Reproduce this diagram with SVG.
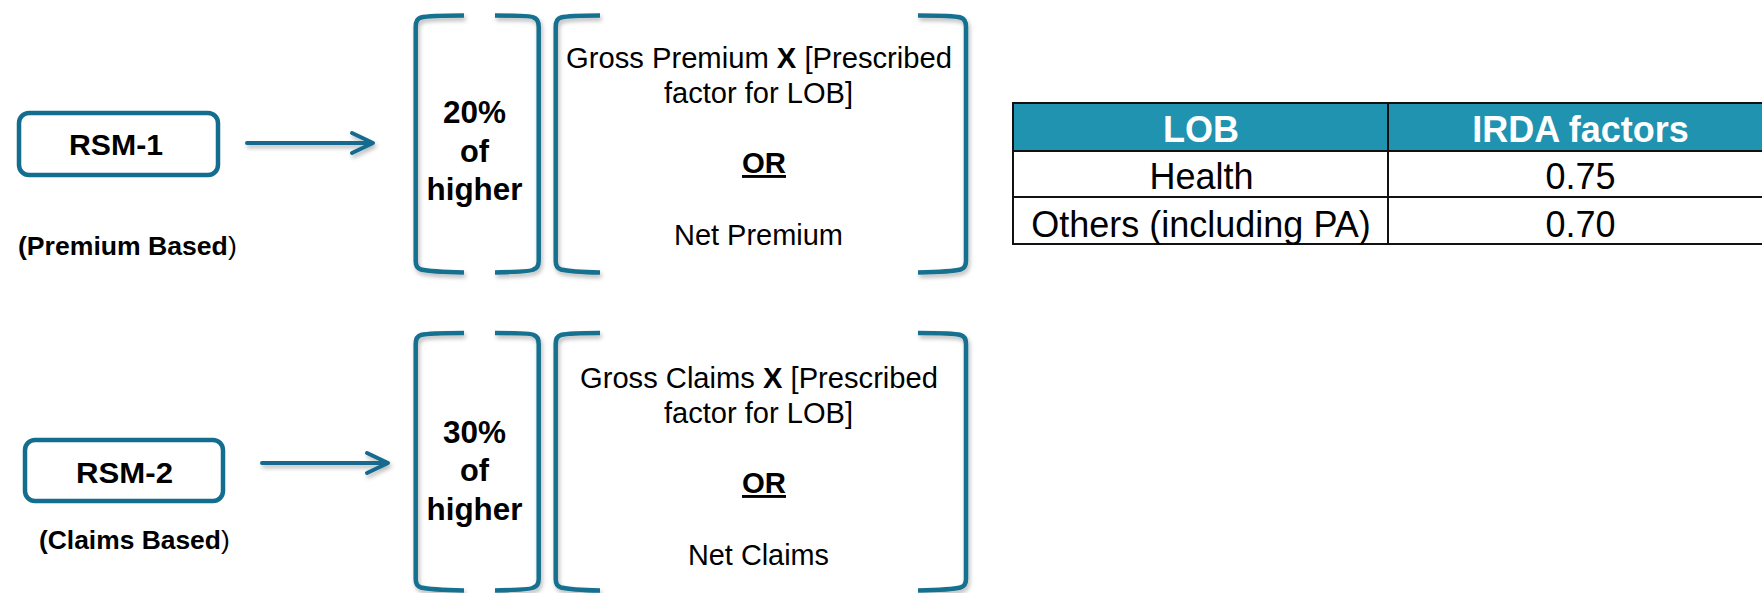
<svg xmlns="http://www.w3.org/2000/svg" width="1762" height="593" viewBox="0 0 1762 593">
<defs>
<style>
.t{font-family:"Liberation Sans",Arial,sans-serif;fill:#000;}
.b{font-weight:bold;}
.m{text-anchor:middle;}
.w{fill:#fff;}
.box{fill:#fff;stroke:#126d8e;stroke-width:4.5;}
.br{fill:none;stroke:#176f8f;stroke-width:4.5;stroke-linecap:butt;stroke-linejoin:round;}
.ar{fill:none;stroke:#126b8d;stroke-width:4;stroke-linecap:round;stroke-linejoin:round;}
.grid{stroke:#111;stroke-width:2;fill:none;}
</style>
<filter id="sh" x="-20%" y="-20%" width="140%" height="140%">
<feDropShadow dx="1.5" dy="3" stdDeviation="2" flood-color="#000" flood-opacity="0.28"/>
</filter>
</defs>
<rect width="1762" height="593" fill="#fff"/>

<g id="rsm1">
<rect class="box" x="19" y="113" width="199" height="62" rx="10"/>
<text class="t b m" x="116" y="155" font-size="30" textLength="94" lengthAdjust="spacingAndGlyphs">RSM-1</text>
<text class="t" x="18" y="255" font-size="26.6"><tspan class="b">(Premium Based</tspan>)</text>
</g>

<g id="rsm2">
<rect class="box" x="25" y="440" width="198" height="61" rx="10"/>
<text class="t b m" x="124.5" y="483" font-size="30" textLength="97" lengthAdjust="spacingAndGlyphs">RSM-2</text>
<text class="t" x="39" y="549" font-size="26.4"><tspan class="b">(Claims Based</tspan>)</text>
</g>

<g id="connectors" filter="url(#sh)">
<path class="ar" d="M247,143 L372,143 M352,133 L373,143 L352,153"/>
<path class="ar" d="M262,463 L387,463 M367,453 L388,463 L367,473"/>
</g>

<g id="pct1" filter="url(#sh)">
<path class="br" d="M464,15.5 C440,15.5 427,16 421,17.5 Q415.7,19 415.7,27 L415.7,261 Q415.7,268 421,269.5 C427,271 440,272 464,272.5"/>
<path class="br" d="M495,15.5 C519,15.5 532,16 533.5,17.5 Q538.7,19 538.7,27 L538.7,261 Q538.7,268 533.5,269.5 C532,271 519,272 495,272.5"/>
</g>
<g id="pct1text">
<text class="t b m" x="474.5" y="123" font-size="31.5" textLength="63" lengthAdjust="spacingAndGlyphs">20%</text>
<text class="t b m" x="474.5" y="162" font-size="31.5" textLength="29" lengthAdjust="spacingAndGlyphs">of</text>
<text class="t b m" x="474.5" y="200" font-size="31.5" textLength="96" lengthAdjust="spacingAndGlyphs">higher</text>
</g>

<g id="formula1" filter="url(#sh)">
<path class="br" d="M600,15.5 C576,15.5 567,16 561,17.5 Q555.7,19 555.7,27 L555.7,261 Q555.7,268 561,269.5 C567,271 576,272 600,272.5"/>
<path class="br" d="M918,15.5 C942,15.5 955,16 960.5,17.5 Q966,19 966,27 L966,261 Q966,268 960.5,269.5 C955,271 942,272 918,272.5"/>
</g>
<g id="formula1text">
<text class="t m" x="759" y="68" font-size="29" textLength="386" lengthAdjust="spacingAndGlyphs">Gross Premium <tspan class="b">X</tspan> [Prescribed</text>
<text class="t m" x="758.5" y="103" font-size="29" textLength="189" lengthAdjust="spacingAndGlyphs">factor for LOB]</text>
<text class="t b m" x="764" y="173" font-size="29" text-decoration="underline" textLength="44" lengthAdjust="spacingAndGlyphs">OR</text>
<text class="t m" x="758.5" y="245" font-size="29" textLength="169" lengthAdjust="spacingAndGlyphs">Net Premium</text>
</g>

<g id="pct2" filter="url(#sh)">
<path class="br" d="M464,333 C440,333 427,333.5 421,335 Q415.7,336.5 415.7,344 L415.7,579 Q415.7,586 421,587.5 C427,589 440,590 464,590.5"/>
<path class="br" d="M495,333 C519,333 532,333.5 533.5,335 Q538.7,336.5 538.7,344 L538.7,579 Q538.7,586 533.5,587.5 C532,589 519,590 495,590.5"/>
</g>
<g id="pct2text">
<text class="t b m" x="474.5" y="443" font-size="31.5" textLength="63" lengthAdjust="spacingAndGlyphs">30%</text>
<text class="t b m" x="474.5" y="481" font-size="31.5" textLength="29" lengthAdjust="spacingAndGlyphs">of</text>
<text class="t b m" x="474.5" y="520" font-size="31.5" textLength="96" lengthAdjust="spacingAndGlyphs">higher</text>
</g>

<g id="formula2" filter="url(#sh)">
<path class="br" d="M600,333 C576,333 567,333.5 561,335 Q555.7,336.5 555.7,344 L555.7,579 Q555.7,586 561,587.5 C567,589 576,590 600,590.5"/>
<path class="br" d="M918,333 C942,333 955,333.5 960.5,335 Q966,336.5 966,344 L966,579 Q966,586 960.5,587.5 C955,589 942,590 918,590.5"/>
</g>
<g id="formula2text">
<text class="t m" x="759" y="388" font-size="29" textLength="358" lengthAdjust="spacingAndGlyphs">Gross Claims <tspan class="b">X</tspan> [Prescribed</text>
<text class="t m" x="758.5" y="423" font-size="29" textLength="189" lengthAdjust="spacingAndGlyphs">factor for LOB]</text>
<text class="t b m" x="764" y="493" font-size="29" text-decoration="underline" textLength="44" lengthAdjust="spacingAndGlyphs">OR</text>
<text class="t m" x="758.5" y="565" font-size="29" textLength="141" lengthAdjust="spacingAndGlyphs">Net Claims</text>
</g>

<g id="table">
<rect x="1013" y="103" width="760" height="48" fill="#1f93af"/>
<path class="grid" d="M1012,103 H1770 M1012,151 H1770 M1012,197 H1770 M1012,244 H1770 M1013,103 V244 M1388,103 V244"/>
<text class="t b m w" x="1201" y="142" font-size="36" style="fill:#fff">LOB</text>
<text class="t b m w" x="1580.5" y="142" font-size="36" style="fill:#fff">IRDA factors</text>
<text class="t m" x="1201.5" y="189" font-size="36">Health</text>
<text class="t m" x="1580.5" y="189" font-size="36">0.75</text>
<text class="t m" x="1201" y="237" font-size="36">Others (including PA)</text>
<text class="t m" x="1580.5" y="237" font-size="36">0.70</text>
</g>
</svg>
